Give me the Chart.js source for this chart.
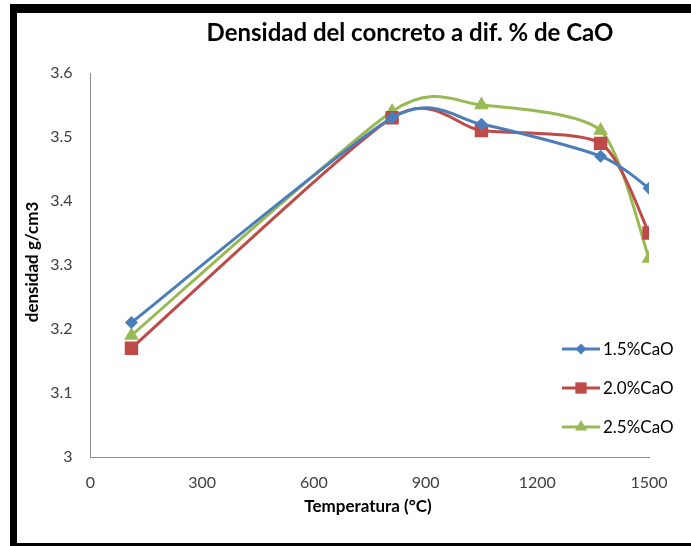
<!DOCTYPE html>
<html>
<head>
<meta charset="utf-8">
<script src="https://cdn.jsdelivr.net/npm/chart.js@4/dist/chart.umd.min.js"></script>
<style>
  html, body { margin: 0; padding: 0; background: #fff; }
  #wrap { position: relative; width: 691px; height: 546px; overflow: hidden; }
  #frame {
    position: absolute; left: 10px; top: 4px; width: 720px; height: 530px;
    border-left: 7px solid #000; border-top: 9px solid #000; border-bottom: 9px solid #000;
    box-sizing: content-box;
  }
  canvas { position: absolute; left: 0; top: 0; }
</style>
</head>
<body>
<div id="wrap">
  <div id="frame"></div>
  <canvas id="c" width="691" height="546"></canvas>
</div>
<script>
// Temperatura (°C) y densidad (g/cm3) para cada porcentaje de CaO
const temperaturas = [110, 810, 1050, 1370, 1500];
const densidadCaO15 = [3.21, 3.53, 3.52, 3.47, 3.42];
const densidadCaO20 = [3.17, 3.53, 3.51, 3.49, 3.35];
const densidadCaO25 = [3.19, 3.54, 3.55, 3.51, 3.31];
const etiquetas = ['1.5%CaO', '2.0%CaO', '2.5%CaO'];
const ejeX = { min: 0, max: 1500, paso: 300 };
const ejeY = { min: 3, max: 3.6, paso: 0.1 };

const FONT = 'Lato, "Open Sans", sans-serif';

function puntos(vals) {
  return temperaturas.map((t, i) => ({ x: t, y: vals[i] }));
}

const estilos = [
  { color: '#4A7EBB', punto: 'rectRot', radio: 6.5, radioLey: 5.5 },
  { color: '#BE4B48', punto: 'rect', radio: 9.5, radioLey: 8 },
  { color: '#98B954', punto: 'triangle', radio: 8.5, radioLey: 7 }
];
const series = [densidadCaO15, densidadCaO20, densidadCaO25];

const datasets = series.map((vals, i) => ({
  label: etiquetas[i],
  data: puntos(vals),
  borderColor: estilos[i].color,
  backgroundColor: estilos[i].color,
  borderWidth: 3,
  pointStyle: estilos[i].punto,
  pointRadius: estilos[i].radio,
  pointBorderWidth: 0,
  pointBackgroundColor: estilos[i].color,
  tension: 0.4,
  fill: false
}));

// Suavizado tipo Catmull-Rom uniforme: los puntos de control de cada
// vértice siguen la dirección entre el vecino anterior y el siguiente.
const K_SUAVE = 0.12;
const suavizado = {
  id: 'suavizado',
  beforeDatasetsDraw(chart) {
    chart.getSortedVisibleDatasetMetas().forEach(meta => {
      const linea = meta.dataset;
      const pts = meta.data;
      if (!linea || pts.length < 2) return;
      linea.updateControlPoints(chart.chartArea, meta.iScale.axis);
      const n = pts.length;
      for (let i = 0; i < n; i++) {
        const prev = pts[Math.max(i - 1, 0)];
        const next = pts[Math.min(i + 1, n - 1)];
        const p = pts[i];
        const dx = next.x - prev.x, dy = next.y - prev.y;
        p.cp1x = p.x - K_SUAVE * dx;
        p.cp1y = p.y - K_SUAVE * dy;
        p.cp2x = p.x + K_SUAVE * dx;
        p.cp2y = p.y + K_SUAVE * dy;
      }
      linea._path = undefined;
    });
  }
};

// Título, títulos de ejes y leyenda dibujados en posiciones fijas
const textos = {
  id: 'textos',
  afterDraw(chart) {
    const ctx = chart.ctx;
    ctx.save();
    ctx.fillStyle = '#000';
    ctx.textBaseline = 'middle';
    ctx.textAlign = 'center';
    ctx.font = 'bold 24px ' + FONT;
    ctx.fillText('Densidad del concreto a dif. % de CaO', 410, 33);
    ctx.font = 'bold 17px ' + FONT;
    ctx.fillText('Temperatura (°C)', 368, 507);
    ctx.save();
    ctx.translate(33, 262);
    ctx.rotate(-Math.PI / 2);
    ctx.fillText('densidad g/cm3', 0, 0);
    ctx.restore();

    // leyenda
    const filas = [349, 388, 427];
    ctx.textAlign = 'left';
    ctx.font = '17px ' + FONT;
    chart.data.datasets.forEach((ds, i) => {
      const y = filas[i];
      ctx.strokeStyle = ds.borderColor;
      ctx.lineWidth = 3;
      ctx.beginPath();
      ctx.moveTo(562, y);
      ctx.lineTo(600, y);
      ctx.stroke();
      ctx.fillStyle = ds.backgroundColor;
      Chart.helpers.drawPoint(ctx, {
        pointStyle: ds.pointStyle,
        radius: estilos[i].radioLey,
        rotation: 0,
        borderWidth: 0
      }, 581, y);
      ctx.fillStyle = '#000';
      ctx.fillText(ds.label, 603, y + 1);
    });
    ctx.restore();
  }
};

new Chart(document.getElementById('c'), {
  type: 'line',
  data: { datasets },
  options: {
    responsive: false,
    animation: false,
    events: [],
    layout: { padding: { left: 0, top: 73, right: 42, bottom: 0 } },
    plugins: { legend: { display: false }, title: { display: false }, tooltip: { enabled: false } },
    scales: {
      x: {
        type: 'linear',
        min: ejeX.min, max: ejeX.max,
        afterFit(s) { s.height = 89; },
        ticks: {
          stepSize: ejeX.paso, color: '#404040', font: { family: FONT, size: 16 }, padding: 16, maxRotation: 0,
          callback: v => String(v)
        },
        grid: { display: false, drawTicks: false },
        border: { display: true, color: '#8C8C8C', width: 1 }
      },
      y: {
        min: ejeY.min, max: ejeY.max,
        afterFit(s) { s.width = 90.5; },
        ticks: {
          stepSize: ejeY.paso, color: '#404040', font: { family: FONT, size: 16 }, padding: 18,
          callback: v => String(Math.round(v * 10) / 10)
        },
        grid: { display: false, drawTicks: false },
        border: { display: true, color: '#8C8C8C', width: 1 }
      }
    }
  },
  plugins: [suavizado, textos]
});
</script>
</body>
</html>
